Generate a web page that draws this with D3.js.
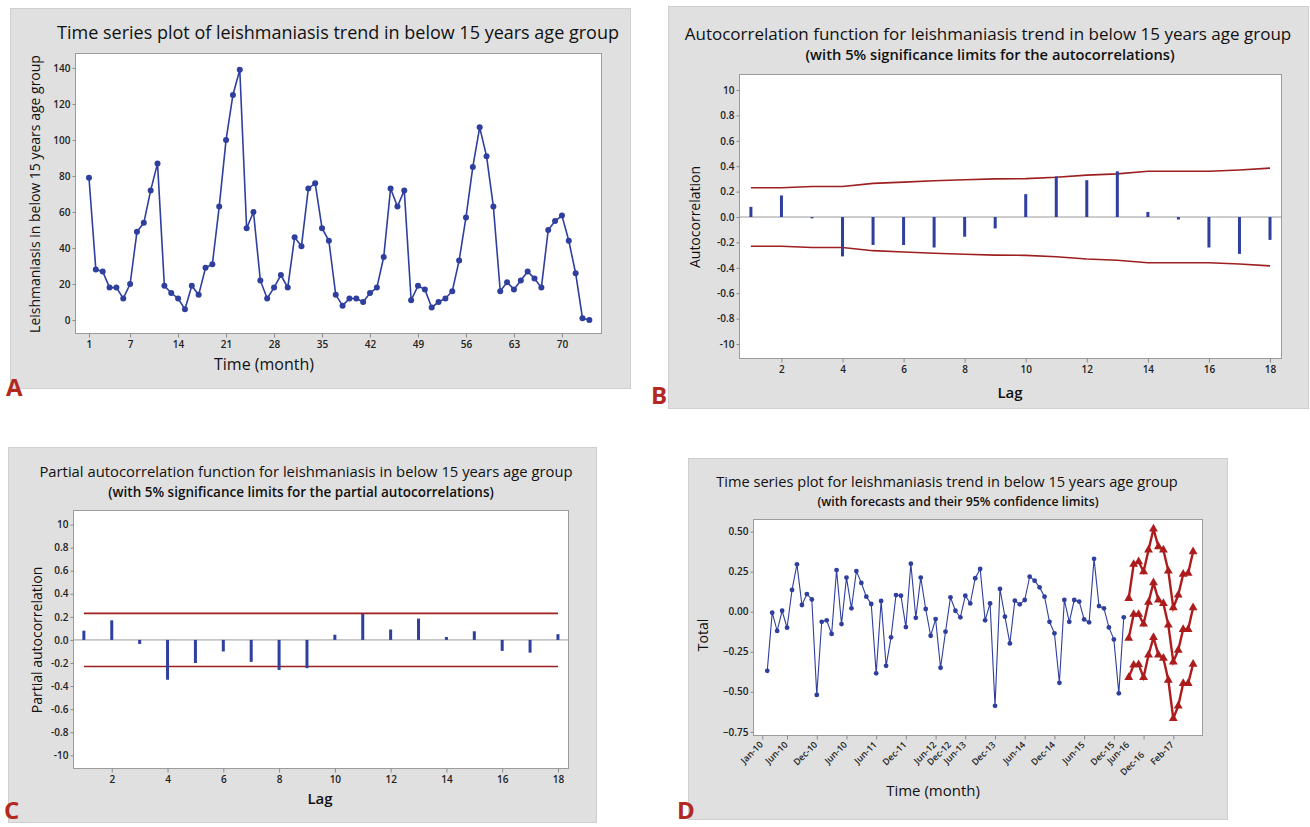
<!DOCTYPE html>
<html>
<head>
<meta charset="utf-8">
<script src="https://cdn.jsdelivr.net/npm/d3@7"></script>
<style>
  body { margin: 0; background: #fff; }
  svg { font-family: 'Open Sans', sans-serif; }
  .panel-bg { fill: #e0e0e0; stroke: #cfcfcf; }
  .plot-bg { fill: #fff; stroke: #9c9c9c; }
  .axis text { font-family: 'Open Sans', sans-serif; font-size: 10px; font-weight: 600; fill: #222; }
  .axis line { stroke: #8a8a8a; }
  .title { fill: #111; text-anchor: middle; }
  .subtitle { font-weight: 600; fill: #111; text-anchor: middle; }
  .axis-label { font-size: 14px; fill: #111; text-anchor: middle; }
  .lag { font-size: 15px; font-weight: 600; }
  .letter { font-size: 24px; font-weight: 700; fill: #b3281f; }
</style>
</head>
<body>
<svg></svg>
<script>
// ---- data ----
// A: monthly cases, below 15 years (months 1..74)
const monthlyCases = [79, 28, 27, 18, 18, 12, 20, 49, 54, 72,
  87, 19, 15, 12, 6, 19, 14, 29, 31, 63,
  100, 125, 139, 51, 60, 22, 12, 18, 25, 18,
  46, 41, 73, 76, 51, 44, 14, 8, 12, 12,
  10, 15, 18, 35, 73, 63, 72, 11, 19, 17,
  7, 10, 12, 16, 33, 57, 85, 107, 91, 63,
  16, 21, 17, 22, 27, 23, 18, 50, 55, 58,
  44, 26, 1, 0]
const monthTicks = [1, 7, 14, 21, 28, 35, 42, 49, 56, 63, 70]
const caseTicks = [0, 20, 40, 60, 80, 100, 120, 140]

// B: autocorrelations and their 5% limits (lags 1..18)
const lags = [1, 2, 3, 4, 5, 6, 7, 8, 9, 10, 11, 12, 13, 14, 15, 16, 17, 18]
const acf = [0.08, 0.17, -0.01, -0.31, -0.22, -0.22, -0.24, -0.155, -0.09,
  0.18, 0.32, 0.29, 0.36, 0.04, -0.02, -0.24, -0.29, -0.18]
const acfLimit = [0.23, 0.23, 0.24, 0.24, 0.265, 0.275, 0.285, 0.293, 0.3,
  0.302, 0.313, 0.33, 0.34, 0.36, 0.36, 0.36, 0.37, 0.385]

// C: partial autocorrelations, constant limit
const pacf = [0.08, 0.17, -0.035, -0.345, -0.2, -0.1, -0.19, -0.26, -0.245,
  0.045, 0.225, 0.09, 0.185, 0.025, 0.075, -0.095, -0.11, 0.05]
const pacfLimit = 0.23

const lagTicks = [2, 4, 6, 8, 10, 12, 14, 16, 18]
const corrTicks = [-1, -0.8, -0.6, -0.4, -0.2, 0, 0.2, 0.4, 0.6, 0.8, 1]
const corrTickLabels = ['-10', '-0.8', '-0.6', '-0.4', '-0.2', '0.0', '0.2', '0.4', '0.6', '0.8', '10']

// D: transformed series (months 1..73) and forecasts (months 74..87)
const seriesStart = 1
const series = [-0.369, -0.006, -0.12, 0.006, -0.1, 0.136, 0.296, 0.042, 0.11, 0.077,
  -0.52, -0.063, -0.054, -0.139, 0.26, -0.077, 0.213, 0.021, 0.254, 0.18,
  0.094, 0.048, -0.385, 0.067, -0.338, -0.16, 0.104, 0.1, -0.096, 0.3,
  -0.038, 0.213, 0.017, -0.15, -0.046, -0.35, -0.125, 0.09, 0.006, -0.035,
  0.1, 0.052, 0.209, 0.267, -0.054, 0.052, -0.588, 0.142, -0.031, -0.198,
  0.069, 0.046, 0.073, 0.219, 0.194, 0.152, 0.094, -0.063, -0.135, -0.444,
  0.073, -0.063, 0.073, 0.063, -0.048, -0.066, 0.33, 0.035, 0.021, -0.098,
  -0.173, -0.51, -0.035]
const forecastStart = 74
const forecastUpper = [0.083, 0.296, 0.313, 0.25, 0.386, 0.517, 0.406, 0.386, 0.254, 0.025, 0.104, 0.234, 0.24, 0.375]
const forecast = [-0.166, -0.016, -0.016, -0.077, 0.059, 0.181, 0.073, 0.052, -0.083, -0.313, -0.24, -0.11, -0.11, 0.025]
const forecastLower = [-0.41, -0.333, -0.33, -0.41, -0.27, -0.16, -0.27, -0.29, -0.427, -0.667, -0.588, -0.448, -0.448, -0.327]
const totalTicks = [-0.75, -0.5, -0.25, 0, 0.25, 0.5]
const dateTickMonths = [0, 5, 11, 17, 23, 29, 35, 41, 47, 53, 59, 65, 71, 77, 83]
const dateLabels = ['Jan-10', 'Jun-10', 'Dec-10', 'Jun-10', 'Jun-11', 'Dec-11', 'Jun-12', 'Dec-12',
  'Jun-13', 'Dec-13', 'Jun-14', 'Dec-14', 'Jun-15', 'Dec-15', 'Jun-16', 'Dec-16', 'Feb-17']
const dateLabelMonths = [0, 5, 11, 17, 23, 29, 35, 38, 41, 47, 53, 59, 65, 71, 74, 77, 83]

// ---- drawing ----
const w = 1310
const h = 827
const blue = '#2f3f9e'
const limitRed = '#9e1f1f'
const fcRed = '#ad1c1c'

const svg = d3.select('svg').attr('width', w).attr('height', h)

// gray panel + white plot frame
const frame = (box, plot) => {
  svg.append('rect').attr('class', 'panel-bg')
    .attr('x', box[0] + 0.5).attr('y', box[1] + 0.5)
    .attr('width', box[2] - box[0]).attr('height', box[3] - box[1])
  svg.append('rect').attr('class', 'plot-bg')
    .attr('x', plot[0] + 0.5).attr('y', plot[1] + 0.5)
    .attr('width', plot[2] - plot[0]).attr('height', plot[3] - plot[1])
}

const axes = (plot, x, y, xTicks, yTicks, yFormat) => {
  svg.append('g').attr('class', 'axis')
    .attr('transform', `translate(0, ${plot[3] + 0.5})`)
    .call(d3.axisBottom(x).tickValues(xTicks).tickSize(4).tickSizeOuter(0).tickPadding(3))
    .call(g => g.select('.domain').remove())
  svg.append('g').attr('class', 'axis')
    .attr('transform', `translate(${plot[0] + 0.5}, 0)`)
    .call(d3.axisLeft(y).tickValues(yTicks).tickSize(3).tickSizeOuter(0).tickPadding(2)
      .tickFormat(yFormat))
    .call(g => g.select('.domain').remove())
  svg.selectAll('.axis').attr('font-family', null).attr('font-size', null)
}

const text = (cls, x, y, str, size, rotate) => {
  const t = svg.append('text').attr('class', cls)
    .attr('transform', `translate(${x}, ${y})` + (rotate ? 'rotate(-90)' : ''))
    .attr('dy', '0.35em')
    .text(str)
  if (size) t.style('font-size', size + 'px')
}

const letter = (x, y, str) => {
  svg.append('text').attr('class', 'letter').attr('x', x).attr('y', y).text(str)
}

// Panel A: time series of cases
{
  const plot = [75, 53, 601, 333]
  frame([10, 8, 630, 388], plot)
  const x = d3.scaleLinear().domain([-1.04, 75.7]).range([plot[0], plot[2]])
  const y = d3.scaleLinear().domain([-7.2, 148.3]).range([plot[3], plot[1]])
  axes(plot, x, y, monthTicks, caseTicks, d => d)

  svg.append('path')
    .datum(monthlyCases)
    .attr('fill', 'none')
    .attr('stroke', blue)
    .attr('stroke-width', 1.6)
    .attr('d', d3.line().x((d, i) => x(i + 1)).y(d => y(d)))
  svg.append('g').selectAll('circle')
    .data(monthlyCases)
    .enter()
    .append('circle')
    .attr('cx', (d, i) => x(i + 1))
    .attr('cy', d => y(d))
    .attr('r', 3)
    .attr('fill', blue)

  text('title', 338, 33, 'Time series plot of leishmaniasis trend in below 15 years age group', 18)
  text('axis-label', 35, 194, 'Leishmaniasis in below 15 years age group', 14, true)
  text('axis-label', 264, 364, 'Time (month)', 16)
  letter(6, 396, 'A')
}

// correlogram used by B and C
const correlogram = (plot, values, upper, lower) => {
  const x = d3.scaleLinear().domain([0.61, 18.36]).range([plot[0], plot[2]])
  const y = d3.scaleLinear().domain([-1.11, 1.126]).range([plot[3], plot[1]])
  axes(plot, x, y, lagTicks, corrTicks, (d, i) => corrTickLabels[i])

  svg.append('line')
    .attr('x1', plot[0]).attr('x2', plot[2])
    .attr('y1', y(0)).attr('y2', y(0))
    .attr('stroke', '#9a9a9a')

  const limitLine = d3.line().x((d, i) => x(lags[i])).y(d => y(d))
  ;[upper, lower].forEach(lim => {
    svg.append('path')
      .datum(lim)
      .attr('fill', 'none')
      .attr('stroke', limitRed)
      .attr('stroke-width', 1.6)
      .attr('d', limitLine)
  })

  svg.append('g').selectAll('rect')
    .data(values)
    .enter()
    .append('rect')
    .attr('x', (d, i) => x(lags[i]) - 1.5)
    .attr('width', 3)
    .attr('y', d => y(Math.max(0, d)))
    .attr('height', d => Math.abs(y(d) - y(0)))
    .attr('fill', blue)
}

// Panel B: ACF
{
  const plot = [739, 74, 1281, 358]
  frame([668, 6, 1308, 408], plot)
  correlogram(plot, acf, acfLimit, acfLimit.map(d => -d))
  text('title', 988, 34, 'Autocorrelation function for leishmaniasis trend in below 15 years age group', 17)
  text('subtitle', 990, 55, '(with 5% significance limits for the autocorrelations)', 14.7)
  text('axis-label', 695, 217, 'Autocorrelation', 14, true)
  text('axis-label lag', 1010, 393, 'Lag')
  letter(651, 404, 'B')
}

// Panel C: PACF
{
  const plot = [73, 510, 568, 768]
  frame([8, 447, 596, 822], plot)
  correlogram(plot, pacf, lags.map(() => pacfLimit), lags.map(() => -pacfLimit))
  text('title', 306, 472, 'Partial autocorrelation function for leishmaniasis in below 15 years age group', 14.8)
  text('subtitle', 301, 492, '(with 5% significance limits for the partial autocorrelations)', 13.5)
  text('axis-label', 37, 640, 'Partial autocorrelation', 14, true)
  text('axis-label lag', 320, 799, 'Lag')
  letter(4, 819, 'C')
}

// Panel D: series with forecasts
{
  const plot = [753, 519, 1202, 735]
  frame([688, 458, 1227, 819], plot)
  const x = d3.scaleLinear().domain([-1.88, 88.8]).range([plot[0], plot[2]])
  const y = d3.scaleLinear().domain([-0.77, 0.579]).range([plot[3], plot[1]])

  svg.append('g').attr('class', 'axis')
    .attr('transform', `translate(0, ${plot[3] + 0.5})`)
    .call(d3.axisBottom(x).tickValues(dateTickMonths).tickSize(4).tickSizeOuter(0).tickFormat(''))
    .call(g => g.select('.domain').remove())
  svg.append('g').attr('class', 'axis')
    .attr('transform', `translate(${plot[0] + 0.5}, 0)`)
    .call(d3.axisLeft(y).tickValues(totalTicks).tickSize(3).tickSizeOuter(0).tickPadding(2)
      .tickFormat(d3.format('.2f')))
    .call(g => g.select('.domain').remove())
  svg.selectAll('.axis').attr('font-family', null).attr('font-size', null)

  svg.append('g').selectAll('text')
    .data(dateLabels)
    .enter()
    .append('text')
    .attr('transform', (d, i) => `translate(${x(dateLabelMonths[i]) - 1}, ${plot[3] + (d === 'Dec-16' ? 18 : 8)})rotate(-45)`)
    .attr('text-anchor', 'end')
    .attr('dy', '0.35em')
    .style('font-size', '9px')
    .style('font-weight', 600)
    .attr('fill', '#222')
    .text(d => d)

  svg.append('path')
    .datum(series)
    .attr('fill', 'none')
    .attr('stroke', blue)
    .attr('stroke-width', 1.1)
    .attr('d', d3.line().x((d, i) => x(seriesStart + i)).y(d => y(d)))
  svg.append('g').selectAll('circle')
    .data(series)
    .enter()
    .append('circle')
    .attr('cx', (d, i) => x(seriesStart + i))
    .attr('cy', d => y(d))
    .attr('r', 2.4)
    .attr('fill', blue)

  const tri = d3.symbol().type(d3.symbolTriangle).size(34)
  ;[forecastUpper, forecast, forecastLower].forEach(s => {
    svg.append('path')
      .datum(s)
      .attr('fill', 'none')
      .attr('stroke', fcRed)
      .attr('stroke-width', 2.4)
      .attr('d', d3.line().x((d, i) => x(forecastStart + i)).y(d => y(d)))
    svg.append('g').selectAll('path')
      .data(s)
      .enter()
      .append('path')
      .attr('d', tri)
      .attr('transform', (d, i) => `translate(${x(forecastStart + i)}, ${y(d)})`)
      .attr('fill', fcRed)
  })

  text('title', 947, 482, 'Time series plot for leishmaniasis trend in below 15 years age group', 14.6)
  text('subtitle', 958, 502, '(with forecasts and their 95% confidence limits)', 12.3)
  text('axis-label', 703, 635, 'Total', 14, true)
  text('axis-label', 933, 791, 'Time (month)', 15)
  letter(677, 819, 'D')
}
</script>
</body>
</html>
